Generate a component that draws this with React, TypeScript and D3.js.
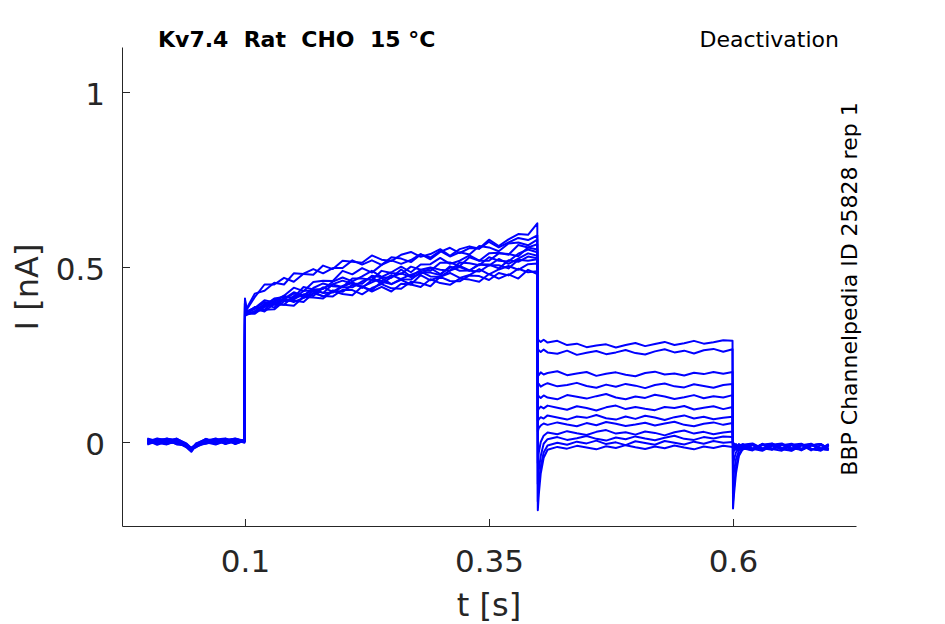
import React, { useRef, useEffect } from "react";
import * as d3 from "d3";

// sample times for the four protocol segments [s]
const tBase = [0, 0.01, 0.02, 0.03, 0.04, 0.045, 0.05, 0.06, 0.07, 0.08, 0.09, 0.0995];
const tAct = [
	0.1, 0.101, 0.11, 0.12, 0.13, 0.14, 0.15, 0.16, 0.17, 0.18, 0.19, 0.2, 0.21, 0.22, 0.23, 0.24,
	0.25, 0.26, 0.27, 0.28, 0.29, 0.3, 0.31, 0.32, 0.33, 0.34, 0.35, 0.36, 0.37, 0.38, 0.39, 0.3995,
];
const tDeact = [
	0.4, 0.401, 0.403, 0.406, 0.41, 0.42, 0.43, 0.44, 0.45, 0.46, 0.47, 0.48, 0.49, 0.5, 0.51, 0.52,
	0.53, 0.54, 0.55, 0.56, 0.57, 0.58, 0.59, 0.5995,
];
const tTail = [0.6, 0.601, 0.603, 0.606, 0.61, 0.62, 0.63, 0.64, 0.65, 0.66, 0.67, 0.68, 0.69, 0.698];

// currents [nA], one row per sweep
const baseI = [
	[0.007, -0.006, 0.009, 0.001, -0.012, -0.022, -0.008, 0.006, -0.005, 0.007, 0.0, 0.006],
	[-0.005, 0.008, -0.002, 0.01, -0.006, -0.018, -0.012, 0.0, 0.008, -0.006, 0.009, 0.002],
	[0.009, -0.002, -0.007, 0.007, -0.014, -0.026, -0.004, 0.008, -0.003, 0.009, -0.005, 0.004],
	[0.001, 0.01, 0.004, -0.006, -0.008, -0.02, -0.015, 0.002, 0.009, -0.002, 0.007, -0.002],
	[-0.007, 0.003, 0.01, 0.002, -0.013, -0.024, -0.006, 0.009, -0.006, 0.004, 0.01, 0.003],
	[0.005, -0.008, 0.002, 0.009, -0.004, -0.017, -0.013, -0.004, 0.007, 0.01, -0.002, 0.006],
	[0.01, 0.001, -0.005, 0.0, -0.015, -0.028, -0.009, 0.003, 0.01, -0.004, 0.005, 0.0],
	[-0.003, 0.007, 0.008, -0.007, -0.009, -0.021, -0.014, 0.007, 0.001, 0.008, -0.006, 0.004],
	[0.003, -0.005, 0.006, 0.008, -0.013, -0.019, -0.004, -0.001, -0.007, 0.003, 0.008, 0.001],
	[0.008, 0.004, -0.006, 0.004, -0.006, -0.025, -0.01, 0.008, 0.004, -0.005, 0.001, 0.005],
	[-0.006, 0.009, 0.001, -0.003, -0.012, -0.016, -0.007, -0.005, 0.003, 0.006, 0.009, 0.002],
	[0.0, -0.003, 0.009, 0.005, -0.008, -0.023, -0.012, 0.003, -0.003, 0.009, 0.002, 0.003],
];

const actI = [
	[0.405, 0.372, 0.384, 0.385, 0.41, 0.414, 0.413, 0.443, 0.436, 0.437, 0.458, 0.47, 0.459, 0.473, 0.489, 0.472, 0.485, 0.501, 0.485, 0.507, 0.508, 0.526, 0.509, 0.518, 0.533, 0.518, 0.539, 0.541, 0.535, 0.563, 0.556, 0.565],
	[0.398, 0.365, 0.371, 0.393, 0.392, 0.392, 0.417, 0.419, 0.436, 0.426, 0.427, 0.444, 0.455, 0.443, 0.456, 0.468, 0.451, 0.466, 0.478, 0.487, 0.473, 0.472, 0.49, 0.5, 0.489, 0.487, 0.505, 0.505, 0.496, 0.521, 0.518, 0.522],
	[0.41, 0.378, 0.424, 0.432, 0.455, 0.45, 0.482, 0.48, 0.478, 0.504, 0.494, 0.518, 0.515, 0.512, 0.533, 0.521, 0.517, 0.535, 0.543, 0.529, 0.537, 0.551, 0.532, 0.551, 0.559, 0.552, 0.572, 0.556, 0.57, 0.583, 0.577, 0.59],
	[0.4, 0.368, 0.367, 0.386, 0.399, 0.392, 0.389, 0.414, 0.413, 0.41, 0.431, 0.423, 0.419, 0.444, 0.43, 0.443, 0.43, 0.452, 0.45, 0.443, 0.465, 0.454, 0.449, 0.467, 0.464, 0.458, 0.48, 0.467, 0.479, 0.467, 0.492, 0.48],
	[0.402, 0.37, 0.38, 0.4, 0.393, 0.409, 0.428, 0.418, 0.44, 0.453, 0.445, 0.443, 0.467, 0.467, 0.463, 0.489, 0.483, 0.48, 0.501, 0.492, 0.489, 0.512, 0.513, 0.503, 0.528, 0.518, 0.518, 0.539, 0.537, 0.531, 0.556, 0.55],
	[0.395, 0.362, 0.374, 0.377, 0.404, 0.418, 0.408, 0.422, 0.417, 0.44, 0.45, 0.442, 0.442, 0.459, 0.471, 0.452, 0.471, 0.482, 0.471, 0.48, 0.497, 0.48, 0.498, 0.503, 0.49, 0.507, 0.504, 0.523, 0.509, 0.524, 0.539, 0.532],
	[0.408, 0.375, 0.414, 0.45, 0.45, 0.469, 0.458, 0.481, 0.494, 0.482, 0.497, 0.497, 0.519, 0.507, 0.519, 0.506, 0.528, 0.524, 0.514, 0.536, 0.527, 0.546, 0.53, 0.542, 0.536, 0.56, 0.556, 0.545, 0.567, 0.57, 0.562, 0.578],
	[0.396, 0.364, 0.386, 0.378, 0.379, 0.402, 0.404, 0.4, 0.425, 0.417, 0.416, 0.435, 0.434, 0.422, 0.44, 0.451, 0.439, 0.438, 0.458, 0.454, 0.445, 0.472, 0.46, 0.459, 0.476, 0.474, 0.463, 0.483, 0.476, 0.495, 0.485, 0.488],
	[0.4, 0.368, 0.367, 0.392, 0.409, 0.403, 0.407, 0.432, 0.433, 0.426, 0.451, 0.461, 0.452, 0.452, 0.475, 0.471, 0.469, 0.493, 0.473, 0.492, 0.499, 0.492, 0.489, 0.513, 0.511, 0.505, 0.528, 0.518, 0.516, 0.538, 0.55, 0.542],
	[0.398, 0.366, 0.382, 0.373, 0.395, 0.41, 0.4, 0.412, 0.431, 0.415, 0.433, 0.429, 0.449, 0.444, 0.434, 0.458, 0.451, 0.463, 0.45, 0.477, 0.462, 0.472, 0.483, 0.469, 0.477, 0.494, 0.479, 0.493, 0.503, 0.492, 0.508, 0.51],
	[0.404, 0.372, 0.383, 0.405, 0.399, 0.418, 0.441, 0.431, 0.457, 0.461, 0.46, 0.489, 0.479, 0.497, 0.484, 0.506, 0.519, 0.509, 0.52, 0.537, 0.522, 0.543, 0.555, 0.54, 0.554, 0.553, 0.578, 0.56, 0.579, 0.594, 0.592, 0.625],
	[0.397, 0.365, 0.372, 0.395, 0.384, 0.409, 0.424, 0.413, 0.424, 0.442, 0.429, 0.446, 0.456, 0.44, 0.463, 0.46, 0.477, 0.465, 0.464, 0.485, 0.484, 0.477, 0.502, 0.489, 0.49, 0.508, 0.507, 0.496, 0.519, 0.515, 0.53, 0.525],
];

const deactI = [
	[0.295, 0.29, 0.286, 0.292, 0.284, 0.289, 0.277, 0.281, 0.271, 0.276, 0.279, 0.27, 0.277, 0.283, 0.274, 0.28, 0.286, 0.277, 0.282, 0.289, 0.281, 0.285, 0.291, 0.289],
	[0.265, 0.262, 0.257, 0.264, 0.256, 0.252, 0.261, 0.249, 0.255, 0.26, 0.251, 0.256, 0.263, 0.254, 0.25, 0.259, 0.265, 0.256, 0.261, 0.253, 0.262, 0.266, 0.258, 0.265],
	[0.195, 0.191, 0.199, 0.193, 0.197, 0.202, 0.191, 0.196, 0.2, 0.189, 0.195, 0.199, 0.192, 0.188, 0.197, 0.201, 0.193, 0.196, 0.19, 0.198, 0.194, 0.2, 0.195, 0.2],
	[0.16, 0.166, 0.158, 0.163, 0.168, 0.159, 0.163, 0.169, 0.16, 0.155, 0.164, 0.158, 0.166, 0.161, 0.154, 0.163, 0.167, 0.159, 0.156, 0.165, 0.16, 0.155, 0.163, 0.166],
	[0.125, 0.131, 0.126, 0.133, 0.127, 0.122, 0.134, 0.129, 0.124, 0.131, 0.137, 0.127, 0.122, 0.13, 0.126, 0.135, 0.13, 0.123, 0.128, 0.134, 0.125, 0.131, 0.127, 0.134],
	[0.09, 0.095, 0.101, 0.096, 0.104, 0.098, 0.092, 0.102, 0.097, 0.09, 0.099, 0.104, 0.094, 0.1, 0.095, 0.091, 0.1, 0.097, 0.103, 0.093, 0.098, 0.102, 0.094, 0.1],
	[0.06, 0.065, 0.071, 0.067, 0.076, 0.07, 0.064, 0.073, 0.069, 0.077, 0.068, 0.064, 0.073, 0.066, 0.075, 0.07, 0.063, 0.071, 0.076, 0.067, 0.072, 0.065, 0.069, 0.072],
	[0.03, 0.04, 0.047, 0.053, 0.049, 0.056, 0.05, 0.045, 0.054, 0.048, 0.057, 0.052, 0.046, 0.05, 0.055, 0.047, 0.053, 0.058, 0.049, 0.045, 0.052, 0.056, 0.049, 0.054],
	[-0.06, -0.03, 0.0, 0.018, 0.027, 0.022, 0.031, 0.025, 0.02, 0.029, 0.034, 0.024, 0.028, 0.021, 0.03, 0.026, 0.019, 0.028, 0.033, 0.024, 0.029, 0.022, 0.027, 0.03],
	[-0.12, -0.08, -0.04, -0.005, 0.008, 0.014, 0.006, 0.011, 0.017, 0.009, 0.004, 0.013, 0.008, 0.016, 0.01, 0.005, 0.012, 0.018, 0.009, 0.006, 0.014, 0.01, 0.016, 0.014],
	[-0.17, -0.12, -0.07, -0.03, -0.01, -0.002, -0.008, 0.001, -0.004, 0.004, -0.006, -0.001, -0.009, 0.002, -0.003, -0.008, 0.003, -0.002, -0.007, 0.001, -0.005, 0.003, -0.002, 0.0],
	[-0.195, -0.15, -0.09, -0.045, -0.022, -0.014, -0.019, -0.011, -0.016, -0.021, -0.012, -0.017, -0.009, -0.015, -0.02, -0.013, -0.018, -0.01, -0.016, -0.021, -0.013, -0.017, -0.011, -0.014],
];

const tailI = [
	[-0.19, -0.15, -0.09, -0.04, -0.02, -0.008, -0.022, -0.006, -0.02, -0.008, -0.024, -0.01, -0.006, -0.02],
	[-0.17, -0.13, -0.075, -0.035, -0.018, -0.022, -0.005, -0.019, -0.007, -0.022, -0.008, -0.02, -0.024, -0.009],
	[-0.12, -0.085, -0.05, -0.025, -0.015, -0.006, -0.02, -0.008, -0.004, -0.018, -0.022, -0.007, -0.019, -0.006],
	[-0.07, -0.05, -0.03, -0.018, -0.008, -0.02, -0.007, -0.022, -0.009, -0.005, -0.019, -0.008, -0.021, -0.01],
	[-0.035, -0.025, -0.015, -0.006, -0.018, -0.024, -0.009, -0.005, -0.019, -0.008, -0.022, -0.009, -0.006, -0.02],
	[-0.02, -0.015, -0.006, -0.02, -0.008, -0.004, -0.018, -0.022, -0.008, -0.02, -0.006, -0.019, -0.023, -0.008],
	[-0.015, -0.006, -0.02, -0.008, -0.022, -0.009, -0.021, -0.007, -0.018, -0.024, -0.009, -0.005, -0.019, -0.022],
	[-0.01, -0.004, -0.018, -0.022, -0.007, -0.019, -0.006, -0.02, -0.025, -0.009, -0.021, -0.008, -0.02, -0.007],
	[-0.008, -0.016, -0.021, -0.007, -0.02, -0.008, -0.023, -0.01, -0.006, -0.02, -0.008, -0.024, -0.009, -0.021],
	[-0.005, -0.014, -0.019, -0.023, -0.009, -0.021, -0.008, -0.004, -0.019, -0.007, -0.022, -0.01, -0.006, -0.019],
	[-0.006, -0.016, -0.022, -0.01, -0.006, -0.019, -0.025, -0.01, -0.022, -0.008, -0.005, -0.019, -0.024, -0.009],
	[-0.012, -0.02, -0.007, -0.021, -0.01, -0.006, -0.02, -0.008, -0.021, -0.025, -0.01, -0.007, -0.02, -0.023],
];

const xTicks = [0.1, 0.35, 0.6];
const yTicks = [0, 0.5, 1];

const title = "Kv7.4  Rat  CHO  15 °C";
const protocol = "Deactivation";
const source = "BBP Channelpedia ID 25828 rep 1";

const W = 945;
const H = 624;
const FONT = "DejaVu Sans, sans-serif";
const INK = "#262626";

const TraceChart: React.FC = () => {
	const svgRef = useRef<SVGSVGElement | null>(null);

	useEffect(() => {
		if (!svgRef.current) return;
		const svg = d3.select(svgRef.current);
		svg.selectAll("*").remove();

		const x = d3.scaleLinear().domain([-0.026, 0.726]).range([122, 856]);
		const y = d3.scaleLinear().domain([-0.24, 1.1286]).range([526, 47]);

		const times = [...tBase, ...tAct, ...tDeact, ...tTail];
		const sweeps = baseI.map((b, i) => {
			const vals = [...b, ...actI[i], ...deactI[i], ...tailI[i]];
			return times.map((t, k) => [t, vals[k]] as [number, number]);
		});

		const line = d3
			.line<[number, number]>()
			.x((d) => x(d[0]))
			.y((d) => y(d[1]));

		svg.append("g")
			.selectAll("path")
			.data(sweeps)
			.enter()
			.append("path")
			.attr("d", line)
			.attr("fill", "none")
			.attr("stroke", "#0000ff")
			.attr("stroke-width", 2)
			.attr("stroke-linejoin", "round");

		const yAxis = svg
			.append("g")
			.attr("transform", "translate(122,0)")
			.call(
				d3
					.axisLeft(y)
					.tickValues(yTicks)
					.tickFormat(d3.format("~g"))
					.tickSizeInner(-8)
					.tickSizeOuter(0)
					.tickPadding(17)
			);

		const xAxis = svg
			.append("g")
			.attr("transform", "translate(0,526)")
			.call(
				d3
					.axisBottom(x)
					.tickValues(xTicks)
					.tickFormat(d3.format("~g"))
					.tickSizeInner(-7)
					.tickSizeOuter(0)
					.tickPadding(24)
			);

		[yAxis, xAxis].forEach((a) => {
			a.select(".domain").attr("stroke", INK);
			a.selectAll(".tick line").attr("stroke", INK);
			a.selectAll(".tick text")
				.attr("fill", INK)
				.attr("font-family", FONT)
				.attr("font-size", 31);
		});
		yAxis.selectAll(".tick text").attr("dy", "0.4em");

		svg.append("text")
			.attr("x", 489)
			.attr("y", 616)
			.attr("text-anchor", "middle")
			.attr("font-family", FONT)
			.attr("font-size", 32)
			.attr("fill", INK)
			.text("t [s]");

		svg.append("text")
			.attr("transform", "translate(38,287) rotate(-90)")
			.attr("text-anchor", "middle")
			.attr("font-family", FONT)
			.attr("font-size", 32)
			.attr("fill", INK)
			.text("I [nA]");

		svg.append("text")
			.attr("x", 158)
			.attr("y", 47)
			.attr("font-family", FONT)
			.attr("font-size", 22)
			.attr("font-weight", "bold")
			.attr("fill", "#000")
			.attr("xml:space", "preserve")
			.style("white-space", "pre")
			.text(title);

		svg.append("text")
			.attr("x", 839)
			.attr("y", 47)
			.attr("text-anchor", "end")
			.attr("font-family", FONT)
			.attr("font-size", 22)
			.attr("fill", "#000")
			.text(protocol);

		svg.append("text")
			.attr("transform", "translate(857,289) rotate(-90)")
			.attr("text-anchor", "middle")
			.attr("font-family", FONT)
			.attr("font-size", 22)
			.attr("fill", "#000")
			.text(source);
	}, []);

	return (
		<svg
			ref={svgRef}
			width={W}
			height={H}
			style={{ position: "absolute", left: 0, top: 0, background: "#fff" }}
		/>
	);
};

export default function App() {
	return <TraceChart />;
}
